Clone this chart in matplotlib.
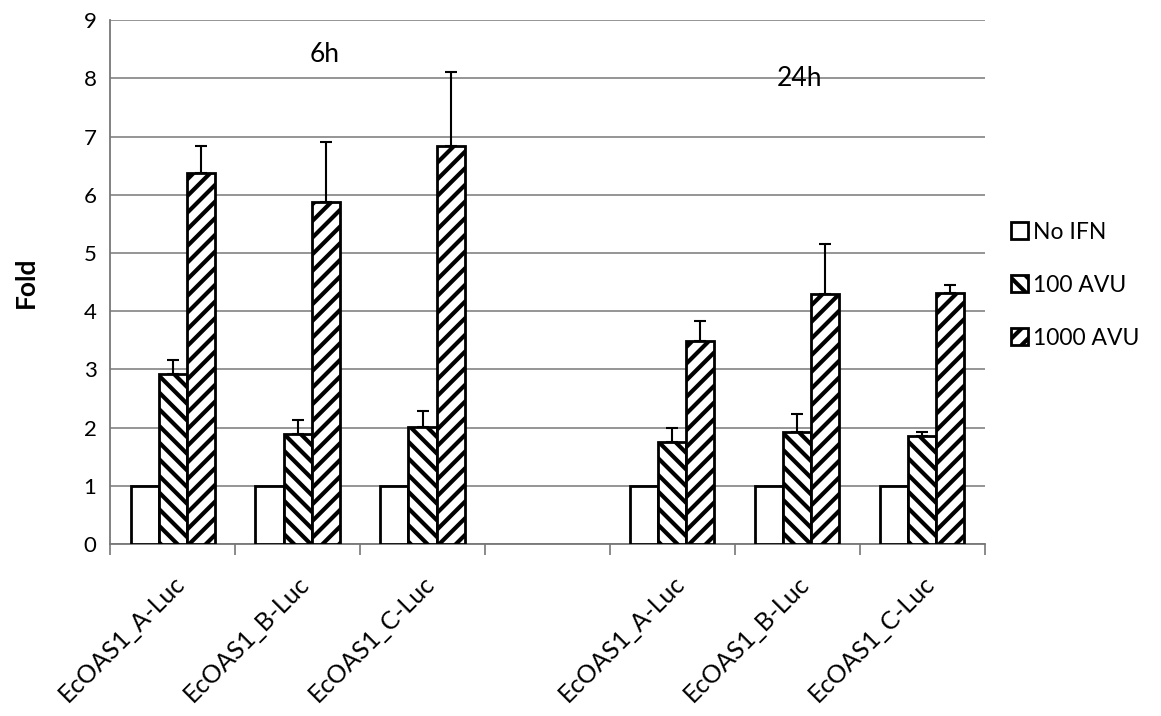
import numpy as np
import matplotlib
matplotlib.use("Agg")
import matplotlib.pyplot as plt

# categories (one empty slot separates the two time points)
categories = ["EcOAS1_A-Luc", "EcOAS1_B-Luc", "EcOAS1_C-Luc", "",
              "EcOAS1_A-Luc", "EcOAS1_B-Luc", "EcOAS1_C-Luc"]
series_names = ["No IFN", "100 AVU", "1000 AVU"]

no_ifn = [1, 1, 1, np.nan, 1, 1, 1]
avu_100 = [2.93, 1.90, 2.02, np.nan, 1.76, 1.92, 1.85]
avu_1000 = [6.37, 5.87, 6.83, np.nan, 3.49, 4.29, 4.32]

err_100 = [0.23, 0.24, 0.26, np.nan, 0.23, 0.31, 0.07]
err_1000 = [0.47, 1.03, 1.28, np.nan, 0.34, 0.86, 0.13]

time_labels = ["6h", "24h"]


def main():
    plt.rcParams["font.family"] = ["Lato", "DejaVu Sans"]
    plt.rcParams["hatch.linewidth"] = 3.0

    fig = plt.figure(figsize=(11.61, 7.16), dpi=100)
    ax = fig.add_axes([0.095, 0.240, 0.753, 0.732])

    x = np.arange(len(categories))
    w = 0.225
    values = [no_ifn, avu_100, avu_1000]
    errs = [None, err_100, err_1000]
    hatches = [None, "\\\\", "//"]

    for i, (vals, err, h) in enumerate(zip(values, errs, hatches)):
        ax.bar(x + (i - 1) * w, vals, width=w, facecolor="white",
               edgecolor="black", linewidth=2.0, hatch=h,
               label=series_names[i], zorder=3)
        if err is not None:
            ax.errorbar(x + (i - 1) * w, vals, yerr=[np.zeros(len(err)), err],
                        fmt="none", ecolor="black", elinewidth=1.5,
                        capsize=4, capthick=1.5, zorder=4)

    ax.set_xlim(-0.5, len(categories) - 0.5)
    ax.set_ylim(0, 9)
    ax.set_yticks(range(0, 10))
    ax.yaxis.grid(True, color="#8c8c8c", linewidth=1.3, zorder=0)
    ax.tick_params(axis="y", length=0, labelsize=16, pad=10)

    # category labels in the middle, tick marks at the category borders
    ax.set_xticks(x)
    ax.set_xticklabels(categories, rotation=45, ha="right",
                       rotation_mode="anchor", fontsize=18)
    ax.tick_params(axis="x", length=0, pad=20)
    ax.set_xticks(np.arange(-0.5, len(categories) + 0.5), minor=True)
    ax.tick_params(axis="x", which="minor", length=8, width=1.2,
                   color="#777777")

    for s in ["top", "right"]:
        ax.spines[s].set_visible(False)
    ax.spines["left"].set_color("#777777")
    ax.spines["bottom"].set_color("#777777")
    ax.spines["left"].set_linewidth(1.3)
    ax.spines["bottom"].set_linewidth(1.3)

    ax.set_ylabel("Fold", fontsize=19, fontweight="bold", labelpad=33)

    ax.text(1.22, 8.4, time_labels[0], fontsize=19, ha="center", va="center")
    ax.text(5.02, 8.0, time_labels[1], fontsize=19, ha="center", va="center")

    ax.legend(loc="center left", bbox_to_anchor=(1.02, 0.494),
              frameon=False, fontsize=16.5, handlelength=0.75,
              handleheight=0.75, handletextpad=0.2, labelspacing=1.4,
              borderaxespad=0)

    fig.savefig("out.png", dpi=100)


if __name__ == "__main__":
    main()
